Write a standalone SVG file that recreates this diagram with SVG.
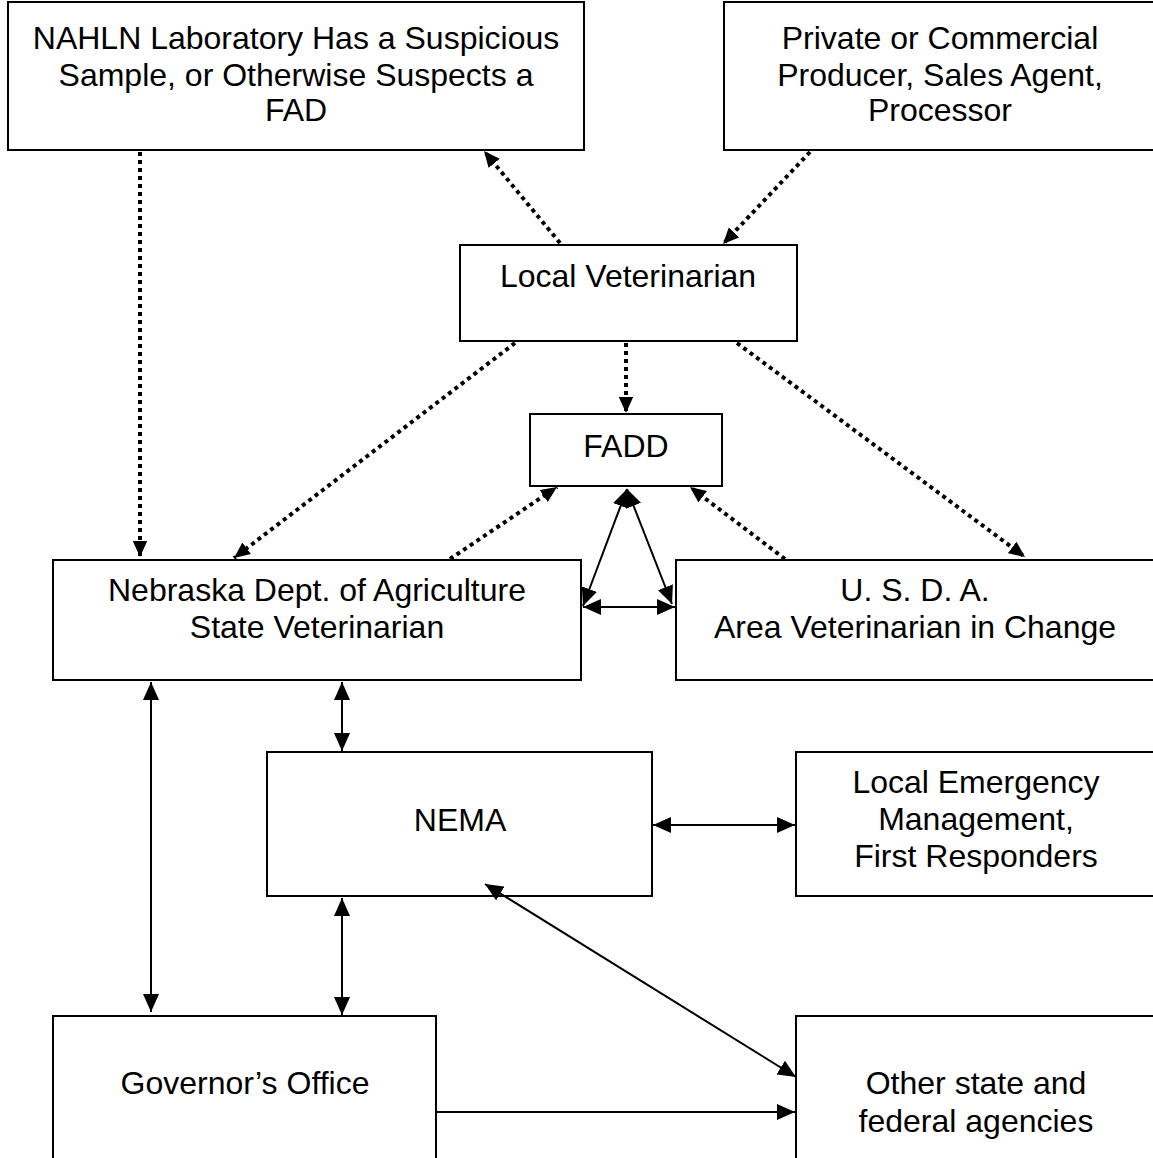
<svg xmlns="http://www.w3.org/2000/svg" width="1153" height="1158" viewBox="0 0 1153 1158">
<style>
.box{fill:#fff;stroke:#000;stroke-width:2}
text{font-family:"Liberation Sans",Arial,sans-serif;font-size:32px;fill:#000;text-anchor:middle}
.dot{stroke:#000;stroke-width:4;stroke-dasharray:4 4;fill:none}
.sol{stroke:#000;stroke-width:2;fill:none}
</style>
<defs>
<marker id="ad" viewBox="0 0 10 10" refX="10" refY="5" markerWidth="4" markerHeight="3.6" orient="auto-start-reverse" markerUnits="strokeWidth" preserveAspectRatio="none"><path d="M0,0L10,5L0,10z" fill="#000"/></marker>
<marker id="as" viewBox="0 0 10 10" refX="10" refY="5" markerWidth="9" markerHeight="8" orient="auto-start-reverse" markerUnits="strokeWidth" preserveAspectRatio="none"><path d="M0,0L10,5L0,10z" fill="#000"/></marker>
</defs>
<g id="nahln"><rect class="box" x="8" y="2" width="576" height="148"/><text x="296" y="49">NAHLN Laboratory Has a Suspicious</text><text x="296" y="86">Sample, or Otherwise Suspects a</text><text x="296" y="121">FAD</text></g>
<g id="private"><rect class="box" x="724" y="2" width="440" height="148"/><text x="940" y="49">Private or Commercial</text><text x="940" y="86">Producer, Sales Agent,</text><text x="940" y="121">Processor</text></g>
<g id="localvet"><rect class="box" x="460" y="245" width="337" height="96"/><text x="628" y="287">Local Veterinarian</text></g>
<g id="fadd"><rect class="box" x="530" y="414" width="192" height="72"/><text x="626" y="457">FADD</text></g>
<g id="nda"><rect class="box" x="53" y="560" width="528" height="120"/><text x="317" y="601">Nebraska Dept. of Agriculture</text><text x="317" y="638">State Veterinarian</text></g>
<g id="usda"><rect class="box" x="676" y="560" width="488" height="120"/><text x="915" y="601">U. S. D. A.</text><text x="915" y="638">Area Veterinarian in Change</text></g>
<g id="nema"><rect class="box" x="267" y="752" width="385" height="144"/><text x="460" y="831">NEMA</text></g>
<g id="lem"><rect class="box" x="796" y="752" width="368" height="144"/><text x="976" y="793">Local Emergency</text><text x="976" y="830">Management,</text><text x="976" y="867">First Responders</text></g>
<g id="gov"><rect class="box" x="53" y="1016" width="383" height="160"/><text x="245" y="1094">Governor’s Office</text></g>
<g id="other"><rect class="box" x="796" y="1016" width="368" height="160"/><text x="976" y="1094">Other state and</text><text x="976" y="1132">federal agencies</text></g>
<g id="connectors">
<path class="dot" d="M140,152L140,557" marker-end="url(#ad)"/>
<path class="dot" d="M560,243L484,151" marker-end="url(#ad)"/>
<path class="dot" d="M810,152L723,244" marker-end="url(#ad)"/>
<path class="dot" d="M515,343L234,558" marker-end="url(#ad)"/>
<path class="dot" d="M626,343L626,413" marker-end="url(#ad)"/>
<path class="dot" d="M737,343L1025,557" marker-end="url(#ad)"/>
<path class="dot" d="M450,559L557,487" marker-end="url(#ad)"/>
<path class="dot" d="M785,559L690,487" marker-end="url(#ad)"/>
<path class="sol" d="M627,489L583,606" marker-start="url(#as)" marker-end="url(#as)"/>
<path class="sol" d="M627,489L672,604" marker-start="url(#as)" marker-end="url(#as)"/>
<path class="sol" d="M583,607L675,607" marker-start="url(#as)" marker-end="url(#as)"/>
<path class="sol" d="M151,682L151,1012" marker-start="url(#as)" marker-end="url(#as)"/>
<path class="sol" d="M342,682L342,751" marker-start="url(#as)" marker-end="url(#as)"/>
<path class="sol" d="M653,825L795,825" marker-start="url(#as)" marker-end="url(#as)"/>
<path class="sol" d="M342,898L342,1015" marker-start="url(#as)" marker-end="url(#as)"/>
<path class="sol" d="M485,884L796,1077" marker-start="url(#as)" marker-end="url(#as)"/>
<path class="sol" d="M437,1112L795,1112" marker-end="url(#as)"/>
</g>
</svg>
